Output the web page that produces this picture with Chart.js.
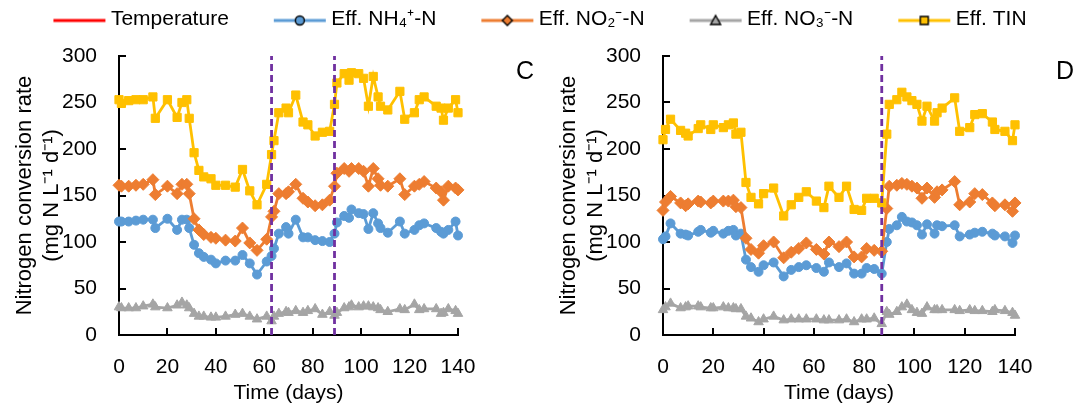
<!DOCTYPE html>
<html>
<head>
<meta charset="utf-8">
<script src="https://cdn.jsdelivr.net/npm/chart.js@4"></script>
<style>
  body { margin: 0; background: #fff; }
  #wrap { position: relative; width: 1079px; height: 410px; overflow: hidden; }
  canvas { position: absolute; }
</style>
</head>
<body>
<div id="wrap">
  <canvas id="legendChart" width="1079" height="40" style="left:0px;top:0px"></canvas>
  <canvas id="chartC" width="544" height="370" style="left:0px;top:40px"></canvas>
  <canvas id="chartD" width="535" height="370" style="left:544px;top:40px"></canvas>
</div>
<script>
// Series shared by both panels
const seriesNames = ['Temperature', 'Eff. NH\u2084\u207A-N', 'Eff. NO\u2082\u207B-N', 'Eff. NO\u2083\u207B-N', 'Eff. TIN'];
const seriesColors = ['#FF0000', '#5B9BD5', '#ED7D31', '#A5A5A5', '#FFC000'];
const seriesMarkers = ['none', 'circle', 'rectRot', 'triangle', 'rect'];

const xTicks = [0, 20, 40, 60, 80, 100, 120, 140];
const yTicks = [0, 50, 100, 150, 200, 250, 300];

// Panel C
const daysC = [0, 1, 4, 7, 10, 14, 15, 20, 24, 26, 28, 29, 31, 33, 35, 38, 40, 44, 48, 51,
  54, 57, 61, 63, 64, 66, 69, 70, 73, 76, 78, 81, 84, 87, 89, 90, 93, 95, 96, 99,
  101, 103, 105, 107, 108, 111, 116, 118, 122, 124, 126, 131, 133, 134, 136, 139, 140];
const nh4C = [122, 122, 122, 123, 124, 124, 115, 125, 113, 124, 124, 115, 97, 88, 84, 81, 77, 80, 80, 86,
  77, 65, 79, 85, 93, 109, 116, 109, 124, 105, 105, 102, 101, 100, 109, 121, 128, 126, 135, 131,
  130, 114, 131, 120, 115, 110, 122, 109, 113, 118, 120, 115, 111, 109, 113, 122, 107];
const no2C = [161, 160, 160, 161, 162, 167, 151, 160, 152, 162, 162, 152, 125, 113, 108, 105, 104, 102, 101, 115,
  99, 91, 103, 127, 133, 152, 152, 154, 162, 147, 143, 139, 140, 145, 160, 174, 179, 176, 179, 179,
  176, 160, 179, 168, 161, 160, 168, 151, 160, 162, 165, 158, 154, 145, 160, 158, 156];
const no3C = [30, 29, 29, 29, 31, 33, 30, 29, 32, 35, 32, 29, 23, 20, 20, 19, 19, 20, 22, 23,
  20, 17, 20, 15, 20, 23, 25, 24, 26, 24, 26, 28, 22, 25, 21, 24, 29, 30, 32, 30,
  31, 31, 30, 29, 27, 25, 28, 27, 33, 27, 28, 28, 23, 24, 28, 26, 23];
const tinC = [253, 249, 252, 253, 253, 256, 233, 253, 234, 250, 253, 233, 196, 177, 170, 168, 161, 161, 159, 178,
  155, 140, 162, 194, 209, 239, 244, 239, 258, 229, 226, 214, 218, 219, 248, 271, 281, 274, 282, 281,
  276, 246, 278, 256, 246, 242, 262, 232, 239, 253, 256, 246, 244, 231, 244, 253, 239];
const markDaysC = [63, 89];

// Panel D
const daysD = [0, 1, 3, 7, 9, 10, 14, 15, 19, 20, 24, 26, 28, 29, 31, 33, 35, 38, 40, 44,
  48, 51, 54, 57, 61, 64, 66, 70, 73, 76, 79, 81, 84, 87, 89, 90, 93, 95, 97, 99,
  101, 103, 105, 108, 109, 111, 116, 118, 122, 124, 127, 131, 132, 136, 139, 140];
const nh4D = [103, 106, 120, 109, 108, 107, 111, 113, 110, 112, 109, 112, 113, 107, 109, 81, 73, 68, 75, 78,
  63, 70, 73, 75, 72, 68, 78, 73, 77, 66, 66, 72, 71, 66, 100, 114, 118, 127, 122, 121,
  118, 108, 119, 109, 118, 117, 118, 106, 108, 110, 111, 109, 107, 106, 99, 107];
const no2D = [134, 143, 149, 142, 139, 141, 144, 143, 142, 144, 144, 144, 145, 138, 137, 104, 92, 88, 96, 100,
  83, 89, 93, 99, 92, 87, 100, 95, 100, 84, 84, 93, 91, 90, 136, 160, 161, 163, 162, 160,
  158, 147, 158, 148, 154, 156, 165, 140, 143, 152, 151, 142, 139, 140, 133, 142];
const no3D = [27, 30, 34, 29, 30, 31, 31, 30, 29, 29, 30, 29, 29, 28, 28, 20, 18, 14, 17, 20,
  16, 17, 17, 17, 17, 16, 16, 16, 17, 14, 17, 17, 18, 12, 25, 22, 25, 30, 33, 27,
  24, 23, 30, 27, 27, 27, 27, 26, 27, 26, 26, 25, 27, 26, 24, 21];
const tinD = [210, 221, 232, 220, 217, 214, 222, 226, 221, 226, 223, 226, 228, 216, 218, 164, 148, 141, 152, 158,
  128, 140, 148, 154, 144, 137, 160, 148, 160, 135, 134, 147, 147, 142, 216, 248, 253, 261, 256, 252,
  248, 230, 246, 230, 239, 244, 255, 219, 223, 237, 238, 229, 221, 219, 209, 226];
const markDaysD = [87];

const FONT = '"Liberation Sans", Arial, sans-serif';
Chart.defaults.font.family = FONT;
Chart.defaults.color = '#000';

// legend icon: line with outlined marker, like the spreadsheet legend
function makeIcon(color, marker) {
  const c = document.createElement('canvas');
  c.width = 106; c.height = 24;
  const g = c.getContext('2d');
  const cy = 13;
  g.strokeStyle = color; g.lineWidth = 3;
  g.beginPath(); g.moveTo(49, cy); g.lineTo(101, cy); g.stroke();
  g.fillStyle = color; g.strokeStyle = '#000'; g.lineWidth = 1.4;
  const mx = 75;
  g.beginPath();
  if (marker === 'circle') {
    g.arc(mx, cy, 4.5, 0, Math.PI * 2);
  } else if (marker === 'rectRot') {
    g.moveTo(mx, cy - 5); g.lineTo(mx + 5, cy); g.lineTo(mx, cy + 5); g.lineTo(mx - 5, cy); g.closePath();
  } else if (marker === 'triangle') {
    g.moveTo(mx, cy - 5); g.lineTo(mx + 5, cy + 4); g.lineTo(mx - 5, cy + 4); g.closePath();
  } else if (marker === 'rect') {
    g.rect(mx - 4, cy - 4, 8, 8);
  } else {
    return c;
  }
  g.fill(); g.stroke();
  return c;
}
const icons = seriesNames.map((n, i) => makeIcon(seriesColors[i], seriesMarkers[i]));

new Chart(document.getElementById('legendChart'), {
  type: 'line',
  data: { datasets: seriesNames.map((n, i) => ({ label: n, data: [], borderColor: seriesColors[i] })) },
  options: {
    responsive: false,
    animation: false,
    layout: { padding: { top: 3, right: 38 } },
    scales: { x: { display: false }, y: { display: false } },
    plugins: {
      tooltip: { enabled: false },
      legend: {
        display: true,
        maxHeight: 40,
        labels: {
          usePointStyle: true,
          pointStyleWidth: 86,
          padding: 6,
          color: '#000',
          font: { size: 21, family: FONT },
          generateLabels: (chart) => chart.data.datasets.map((ds, i) => ({
            text: ds.label,
            pointStyle: icons[i],
            fillStyle: 'rgba(0,0,0,0)',
            strokeStyle: 'rgba(0,0,0,0)',
            lineWidth: 0,
            hidden: false,
            datasetIndex: i
          }))
        }
      }
    }
  }
});

// panel letter (C / D) at upper right of the plot
const panelLetter = {
  id: 'panelLetter',
  afterDraw(chart, args, opts) {
    const { ctx, chartArea } = chart;
    ctx.save();
    ctx.font = '25px ' + FONT;
    ctx.fillStyle = '#000';
    ctx.textAlign = 'center';
    ctx.textBaseline = 'middle';
    ctx.fillText(opts.text, chartArea.right + opts.dx, chartArea.top + opts.dy);
    ctx.restore();
  }
};

function makePanel(id, days, nh4, no2, no3, tin, markDays, letter, rightPad, letterDx) {
  const toXY = (arr) => days.map((d, i) => ({ x: d, y: arr[i] }));
  const values = [null, nh4, no2, no3, tin];
  const sizes = [0, 4.5, 6, 5.5, 5.8];
  const datasets = [];
  markDays.forEach((d) => {
    datasets.push({
      data: [{ x: d, y: yTicks[0] }, { x: d, y: yTicks[yTicks.length - 1] }],
      borderColor: '#7030A0', borderWidth: 2.8, borderDash: [7, 4],
      pointRadius: 0, order: 0
    });
  });
  for (let i = 1; i < seriesNames.length; i++) {
    datasets.push({
      label: seriesNames[i],
      data: toXY(values[i]),
      borderColor: seriesColors[i],
      backgroundColor: seriesColors[i],
      pointBackgroundColor: seriesColors[i],
      pointBorderColor: seriesColors[i],
      pointBorderWidth: 1,
      pointStyle: seriesMarkers[i],
      pointRadius: sizes[i],
      borderWidth: 2.8,
      tension: 0,
      clip: false,
      order: 5 - i
    });
  }
  return new Chart(document.getElementById(id), {
    type: 'line',
    data: { datasets },
    plugins: [panelLetter],
    options: {
      responsive: false,
      animation: false,
      layout: { padding: { top: 16, right: rightPad, left: 0, bottom: 0 } },
      plugins: {
        legend: { display: false },
        tooltip: { enabled: false },
        panelLetter: { text: letter, dx: letterDx, dy: 16 }
      },
      scales: {
        x: {
          type: 'linear',
          min: xTicks[0], max: xTicks[xTicks.length - 1],
          border: { color: '#000', width: 2 },
          grid: { drawOnChartArea: false, color: '#000', lineWidth: 2, tickLength: -7 },
          ticks: { stepSize: 20, padding: 27, maxRotation: 0, color: '#000', font: { size: 21 } },
          title: { display: true, text: 'Time (days)', color: '#000', font: { size: 21 }, padding: { top: 0, bottom: 4 } },
          afterFit: (s) => { s.height = 75; }
        },
        y: {
          min: yTicks[0], max: yTicks[yTicks.length - 1],
          border: { color: '#000', width: 2 },
          grid: { drawOnChartArea: false, color: '#000', lineWidth: 2, tickLength: -7 },
          ticks: { stepSize: 50, padding: 29, color: '#000', font: { size: 21 } },
          title: {
            display: true,
            text: ['Nitrogen conversion rate', '(mg N L\u207B\u00B9 d\u207B\u00B9)'],
            color: '#000', font: { size: 22 }, padding: { top: 12, bottom: 0 }
          },
          afterFit: (s) => { s.width = 119; s.paddingTop = 0; s.paddingBottom = 0; }
        }
      }
    }
  });
}

makePanel('chartC', daysC, nh4C, no2C, no3C, tinC, markDaysC, 'C', 86, 67);
makePanel('chartD', daysD, nh4D, no2D, no3D, tinD, markDaysD, 'D', 64, 50);
</script>
</body>
</html>
